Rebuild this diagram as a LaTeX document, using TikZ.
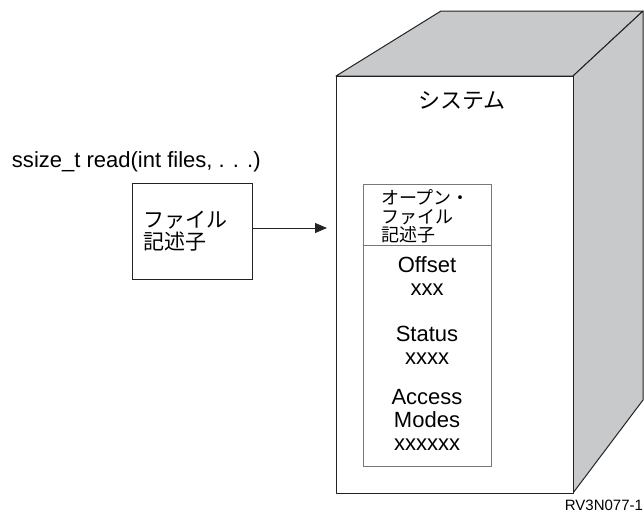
\documentclass[tikz,border=0pt]{standalone}
\usepackage{fontspec}
\setmainfont{Liberation Sans}
\newfontfamily\jpfont{Noto Sans CJK JP}
\usetikzlibrary{arrows.meta}
\definecolor{sidegray}{RGB}{200,201,203}
\definecolor{edgedark}{RGB}{35,35,35}
\definecolor{innergray}{RGB}{120,120,120}
\tikzset{
  face/.style={draw=edgedark, line width=1pt, line join=round},
  sidefill/.style={face, fill=sidegray},
  lbl/.style={inner sep=0pt, outer sep=0pt},
  latin/.style={lbl, font=\fontsize{22}{23}\selectfont, align=center},
  conn/.style={draw=edgedark, line width=0.8pt, -{Triangle[length=12pt,width=10pt]}}
}
\begin{document}
\begin{tikzpicture}[x=1pt,y=-1pt]
\useasboundingbox (0,0) rectangle (644,515);
% cube sides
\path[sidefill] (336,76) -- (441,11) -- (643,11) -- (573,76) -- cycle;
\path[sidefill] (573,76) -- (643,11) -- (643,400) -- (573,493) -- cycle;
% front face
\node[face, fill=white, minimum width=237pt, minimum height=417pt, inner sep=0pt, anchor=north west] (sys) at (336,76) {};
\node[lbl, font=\jpfont\fontsize{22}{22}\selectfont] (systitle) at (462,101) {システム};
% inner open file descriptor box
\node[draw=innergray, line width=0.8pt, fill=white, minimum width=128pt, minimum height=282pt, inner sep=0pt, anchor=north west] (ofd) at (363,184) {};
\coordinate (divl) at (363,245);
\coordinate (divr) at (491,245);
\draw[draw=innergray, line width=0.8pt] (divl) -- (divr);
\node[lbl, anchor=west, align=left, font=\jpfont\fontsize{18}{18.5}\selectfont] (ofdtitle) at (381,216.5) {オープン・\\ファイル\\記述子};
\node[latin] (offset) at (427,276) {Offset\\xxx};
\node[latin] (status) at (427,345) {Status\\xxxx};
\node[latin] (access) at (427,420) {Access\\Modes\\xxxxxx};
% left
\node[lbl, anchor=west, font=\fontsize{22}{22}\selectfont] (call) at (12,162) {ssize\_t read(int files, . . .)};
\node[draw=edgedark, line width=0.8pt, fill=white, minimum width=120pt, minimum height=96pt, inner sep=0pt, anchor=north west] (fd) at (132,183) {};
\node[lbl, anchor=west, align=left, font=\jpfont\fontsize{21}{22}\selectfont] (fdtext) at (143,231) {ファイル\\記述子};
\draw[conn, shorten >=9pt] (fd.east |- 0,228) -- (sys.west |- 0,228);
% figure id
\node[lbl, anchor=east, font=\fontsize{15}{15}\selectfont] (figid) at (643,505) {RV3N077-1};
\end{tikzpicture}
\end{document}
